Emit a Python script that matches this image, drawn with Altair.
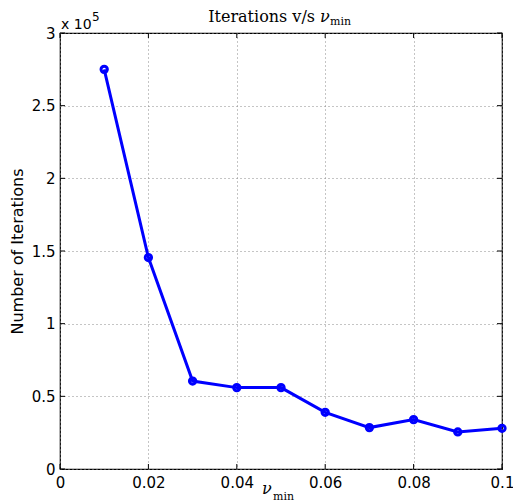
import altair as alt
import pandas as pd

nu_min = [0.01, 0.02, 0.03, 0.04, 0.05, 0.06, 0.07, 0.08, 0.09, 0.10]
iterations = [275000, 145500, 60500, 56000, 56000, 39000, 28500, 34000, 25500, 28000]
x_ticks = [0, 0.02, 0.04, 0.06, 0.08, 0.1]
y_ticks = [0, 50000, 100000, 150000, 200000, 250000, 300000]

W, H = 442, 436
df = pd.DataFrame({"nu": nu_min, "it": iterations})
xt = pd.DataFrame({"xt": x_ticks})
yt = pd.DataFrame({"yt": y_ticks})

xscale = alt.Scale(domain=[0, 0.1], nice=False, zero=False)
yscale = alt.Scale(domain=[0, 300000], nice=False, zero=False)
FONT = "DejaVu Sans"
SERIF = "DejaVu Serif"

xaxis = alt.Axis(values=x_ticks, labelExpr="'' + datum.value", grid=True, gridColor="#8a8a8a",
                 gridDash=[1, 3], gridWidth=1, domain=False, ticks=False, labelFont=FONT,
                 labelFontSize=15, labelColor="black", labelPadding=6, title=None,
                 labelFlush=False)
yaxis = alt.Axis(values=y_ticks, labelExpr="'' + datum.value / 100000", grid=True, gridColor="#8a8a8a",
                 gridDash=[1, 3], gridWidth=1, domain=False, ticks=False, labelFont=FONT,
                 labelFontSize=15, labelColor="black", labelPadding=5,
                 title="Number of Iterations", titleFont=FONT, titleFontSize=16,
                 titleFontWeight="normal", titleColor="black", titlePadding=6)

line = alt.Chart(df).mark_line(color="#0000ff", strokeWidth=3).encode(
    x=alt.X("nu:Q", scale=xscale, axis=xaxis),
    y=alt.Y("it:Q", scale=yscale, axis=yaxis),
)
pts = alt.Chart(df).mark_point(shape="circle", filled=False, color="#0000ff", strokeWidth=3,
                               size=40, opacity=1).encode(
    x=alt.X("nu:Q", scale=xscale),
    y=alt.Y("it:Q", scale=yscale),
)

tb = alt.Chart(xt).mark_rule(color="black", strokeWidth=1).encode(
    x=alt.X("xt:Q", scale=xscale), y=alt.value(H), y2=alt.value(H - 5))
tt = alt.Chart(xt).mark_rule(color="black", strokeWidth=1).encode(
    x=alt.X("xt:Q", scale=xscale), y=alt.value(0), y2=alt.value(5))
tl = alt.Chart(yt).mark_rule(color="black", strokeWidth=1).encode(
    y=alt.Y("yt:Q", scale=yscale), x=alt.value(0), x2=alt.value(5))
tr = alt.Chart(yt).mark_rule(color="black", strokeWidth=1).encode(
    y=alt.Y("yt:Q", scale=yscale), x=alt.value(W), x2=alt.value(W - 5))

one = pd.DataFrame({"a": [0]})


def txt(s, x, y, size, font=FONT, style="normal", align="left"):
    return alt.Chart(one).mark_text(text=s, font=font, fontSize=size, fontStyle=style,
                                    align=align, baseline="alphabetic", color="black").encode(
        x=alt.value(x), y=alt.value(y))


texts = [
    txt("x 10", 1, -4, 14),
    txt("5", 32, -12.5, 12),
    txt("Iterations v/s", 255, -11, 16, font=SERIF, align="right"),
    txt("\u03bd", 260, -11, 16, font=SERIF, style="italic"),
    txt("min", 270, -8.5, 11, font=SERIF),
    txt("\u03bd", 202, 461, 16, font=SERIF, style="italic"),
    txt("min", 213, 467, 11, font=SERIF),
]

chart = alt.layer(line, pts, tb, tt, tl, tr, *texts).properties(
    width=W, height=H,
    autosize=alt.AutoSizeParams(type="none"),
    padding={"left": 60, "top": 33, "right": 11, "bottom": 34},
    background="white",
).configure_view(stroke="black", strokeWidth=1.2)

chart.save("out.html", embed_options={"renderer": "svg", "actions": False})
